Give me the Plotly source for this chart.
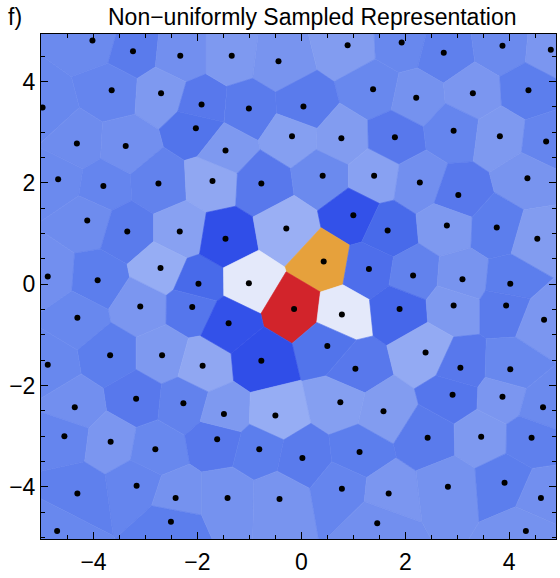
import numpy as np
import plotly.graph_objects as go
from plotly.colors import sample_colorscale

# Sample locations (x, y) and the sampled value at each location
x_pts = [-4.02, -3.24, -2.33, -3.65, -2.70, -4.98, -1.92, -2.03, -4.32, -3.38,
         -4.68, -3.81, -2.75, -1.71, -1.34, -0.44, 0.89, 1.38, -1.01, 0.04,
         -0.18, 0.77, -1.46, -0.77, 0.41, 1.40, 1.93, 2.74, 3.87, 4.80,
         2.21, 3.30, 4.37, 1.80, 2.93, 3.82, 4.71, 2.28, 3.02, 4.35,
         -4.12, -3.35, -2.34, -4.88, -3.92, -2.71, -1.98, -3.10, -2.10, -4.31,
         -3.68, -2.68, -4.88, -1.90, -1.46, -0.29, 1.00, 1.66, 0.43, 1.30,
         -1.01, -0.14, 0.78, -1.40, 0.50, -0.77, 1.04, 2.80, 3.76, 4.54,
         2.15, 3.10, 4.02, 1.89, 2.93, 3.94, 4.67, 2.39, 3.06, 4.02,
         -3.18, -4.36, -2.27, -4.56, -3.67, -2.81, -1.62, -3.17, -4.31, -2.42,
         -2.51, -4.70, -1.49, -0.50, 0.75, 1.58, -0.81, 0.02, 1.12, -1.42,
         -0.42, 0.78, 1.68, 1.46, 2.91, 3.87, 4.65, 2.43, 3.46, 4.43,
         2.82, 3.91, 4.61, 4.32]
y_pts = [4.81, 4.60, 4.51, 3.83, 3.77, 3.49, 3.55, 3.08, 2.78, 2.73,
         2.07, 1.94, 1.99, 2.04, 4.51, 4.40, 4.72, 3.85, 3.47, 3.51,
         2.92, 2.88, 2.64, 1.99, 2.14, 2.14, 4.77, 4.57, 4.71, 4.63,
         3.68, 3.77, 3.83, 2.90, 3.03, 2.92, 2.82, 2.01, 1.76, 2.09,
         1.26, 1.04, 1.04, 0.15, 0.08, 0.32, 0.01, -0.44, -0.45, -0.66,
         -1.40, -1.40, -1.59, -1.61, 0.90, 1.10, 1.36, 1.06, 0.45, 0.30,
         0.02, -0.49, -0.60, -0.77, -1.22, -1.51, -1.67, 1.16, 1.12, 0.90,
         0.17, 0.10, 0.01, -0.49, -0.42, -0.42, -0.70, -1.35, -1.65, -1.68,
         -2.26, -2.43, -2.35, -3.00, -3.11, -3.26, -3.06, -3.98, -4.13, -4.22,
         -4.69, -4.87, -2.56, -2.59, -2.33, -2.51, -3.26, -3.43, -3.31, -4.22,
         -4.24, -4.04, -4.13, -4.72, -2.18, -2.22, -2.43, -3.03, -3.01, -3.03,
         -4.00, -3.92, -4.22, -4.87]
values = [0.24, 0.18, 0.26, 0.22, 0.30, 0.23, 0.17, 0.15, 0.25, 0.26,
          0.24, 0.22, 0.21, 0.35, 0.30, 0.28, 0.31, 0.23, 0.18, 0.18,
          0.32, 0.31, 0.30, 0.17, 0.24, 0.33, 0.23, 0.20, 0.24, 0.29,
          0.27, 0.29, 0.19, 0.17, 0.22, 0.30, 0.22, 0.26, 0.17, 0.28,
          0.25, 0.18, 0.33, 0.26, 0.19, 0.37, 0.11, 0.29, 0.16, 0.23,
          0.19, 0.30, 0.23, 0.35, 0.02, 0.38, 0.03, 0.11, 0.75, 0.13,
          0.50, 1.00, 0.50, 0.03, 0.15, 0.02, 0.17, 0.30, 0.19, 0.31,
          0.21, 0.28, 0.19, 0.10, 0.30, 0.18, 0.29, 0.36, 0.17, 0.23,
          0.17, 0.26, 0.21, 0.22, 0.29, 0.23, 0.17, 0.22, 0.20, 0.27,
          0.19, 0.23, 0.30, 0.37, 0.32, 0.31, 0.19, 0.18, 0.19, 0.27,
          0.28, 0.22, 0.29, 0.26, 0.16, 0.29, 0.24, 0.18, 0.30, 0.20,
          0.27, 0.19, 0.26, 0.27]

x_range = [-5.01, 4.90]
y_range = [-5.03, 4.94]
tick_vals = [-4, -2, 0, 2, 4]

colorscale = [[0.0, "#2b48e8"], [0.1, "#4667ea"], [0.2, "#5f80ed"],
              [0.3, "#7e99f0"], [0.4, "#a1b5f5"], [0.5, "#e4e9fa"],
              [0.75, "#e6a13c"], [1.0, "#d2242b"]]


def clip_half_plane(poly, p, q):
    """Keep the part of polygon poly that is closer to p than to q."""
    mid = (p + q) / 2.0
    normal = q - p
    out = []
    n = len(poly)
    for i in range(n):
        a = poly[i]
        b = poly[(i + 1) % n]
        da = np.dot(a - mid, normal)
        db = np.dot(b - mid, normal)
        if da <= 0:
            out.append(a)
        if (da <= 0) != (db <= 0):
            t = da / (da - db)
            out.append(a + t * (b - a))
    return out


pts = np.column_stack([x_pts, y_pts])
box = [np.array(v, dtype=float) for v in
       [(-5.5, -5.5), (5.5, -5.5), (5.5, 5.5), (-5.5, 5.5)]]

cell_colors = sample_colorscale(colorscale, values)

fig = go.Figure()
for i, p in enumerate(pts):
    poly = list(box)
    for j, q in enumerate(pts):
        if i != j and len(poly) > 0:
            poly = clip_half_plane(poly, p, q)
    if not poly:
        continue
    poly = np.array(poly + [poly[0]])
    fig.add_trace(go.Scatter(
        x=poly[:, 0], y=poly[:, 1], mode="lines", fill="toself",
        fillcolor=cell_colors[i], line=dict(color=cell_colors[i], width=0.6),
        hoverinfo="skip", showlegend=False))

fig.add_trace(go.Scatter(
    x=x_pts, y=y_pts, mode="markers",
    marker=dict(color="black", size=6), showlegend=False,
    customdata=values, hovertemplate="(%{x}, %{y}): %{customdata}<extra></extra>"))

axis_common = dict(
    tickvals=tick_vals, ticks="inside", ticklen=7, tickwidth=1,
    tickcolor="black", showline=True, linecolor="black", linewidth=1,
    mirror="allticks", showgrid=False, zeroline=False,
    tickfont=dict(family="Liberation Sans, Arial, sans-serif", size=23, color="black"),
    minor=dict(dtick=0.5, ticks="inside", ticklen=4, tickcolor="black", showgrid=False),
)

fig.update_layout(
    width=560, height=578,
    margin=dict(l=41, r=3, t=34, b=26),
    paper_bgcolor="white", plot_bgcolor="white",
    xaxis=dict(range=x_range, ticklabelstandoff=2, **axis_common),
    yaxis=dict(range=y_range, **axis_common),
    annotations=[
        dict(text="Non\u2212uniformly Sampled Representation", xref="paper", yref="paper",
             x=0.527, y=1, xanchor="center", yanchor="bottom", yshift=2, showarrow=False,
             font=dict(family="Liberation Sans, Arial, sans-serif", size=23, color="black")),
        dict(text="f)", xref="paper", yref="paper",
             x=-0.068, y=1, xanchor="left", yanchor="bottom", yshift=2, showarrow=False,
             font=dict(family="Liberation Sans, Arial, sans-serif", size=23, color="black")),
    ],
)

fig.write_html("out.html")
